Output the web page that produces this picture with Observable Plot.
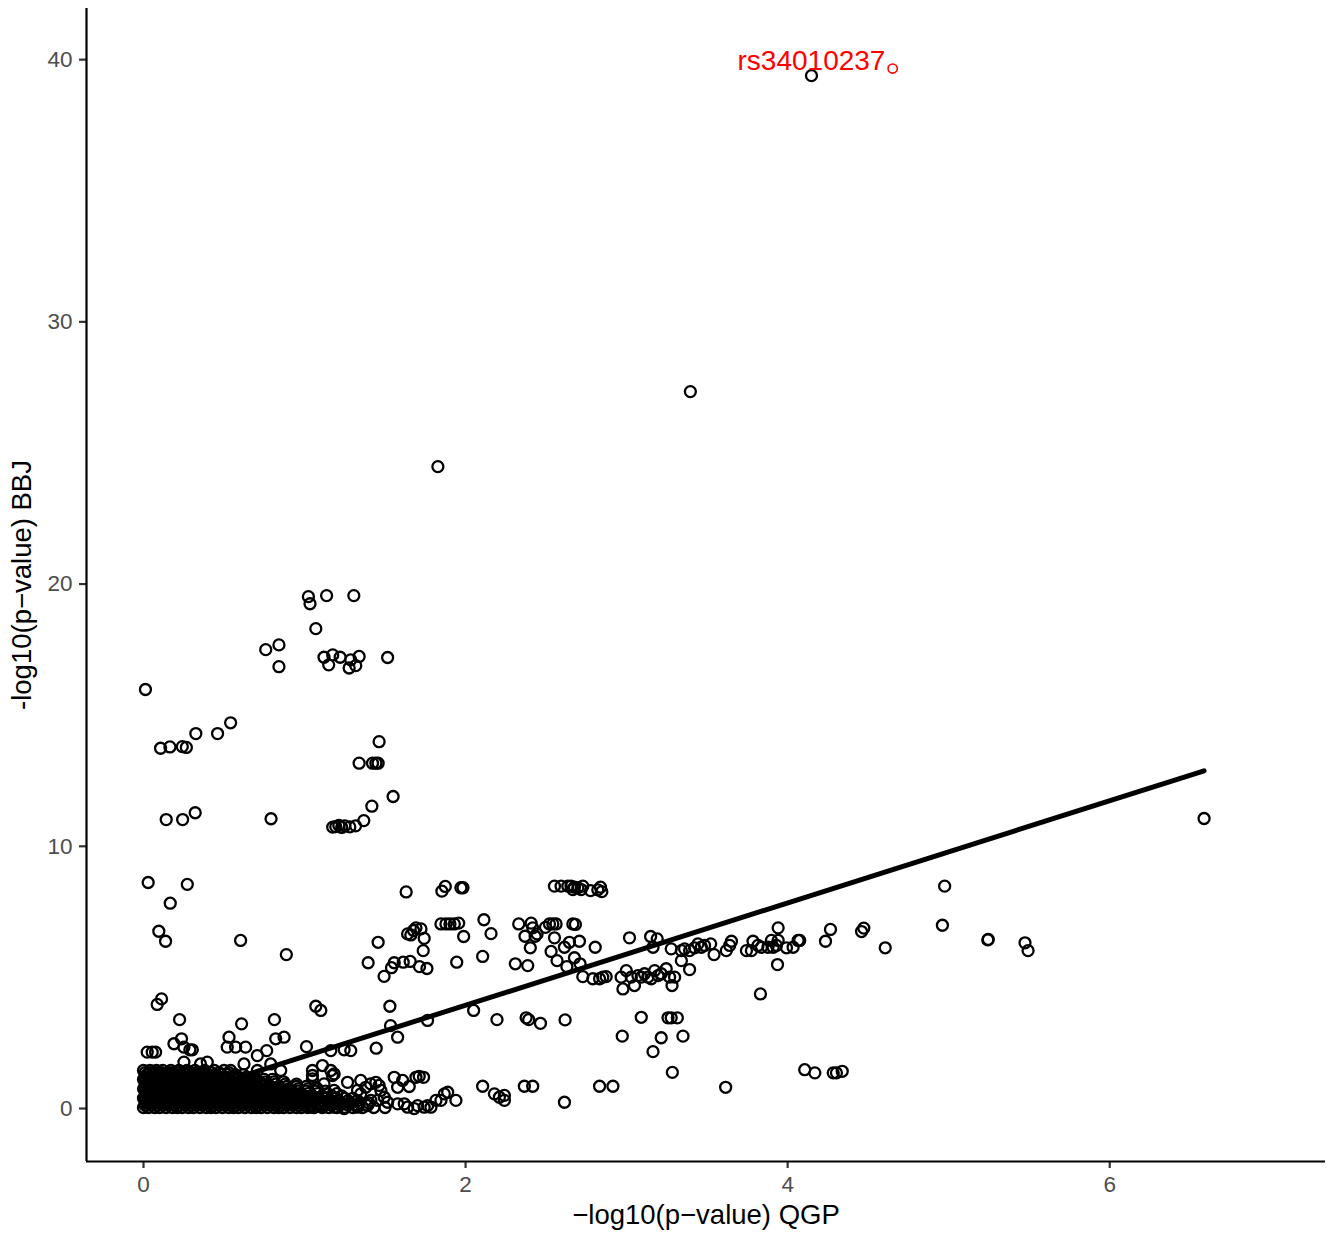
<!DOCTYPE html>
<html><head><meta charset="utf-8">
<script src="https://cdn.jsdelivr.net/npm/d3@7"></script>
<script src="https://cdn.jsdelivr.net/npm/@observablehq/plot@0.6"></script>
<style>body{margin:0;background:#fff} svg{font-family:"Liberation Sans",Arial,sans-serif}</style>
</head><body><div id="chart"></div>
<script>
// Scattered SNPs: -log10(p) QGP (x) and BBJ (y)
const qgp = [4.148,3.396,1.828,6.586,0.012,
1.024,1.034,1.137,1.306,1.070,0.759,0.841,0.841,1.121,1.175,1.221,1.150,1.287,1.277,1.318,1.339,1.516,
0.106,0.164,0.241,0.266,0.325,0.460,0.541,1.463,1.339,1.422,1.443,1.457,1.550,1.418,1.368,1.317,1.281,1.175,1.194,1.213,1.231,1.250,0.141,0.243,0.321,0.792,
0.029,0.272,0.166,0.095,0.137,0.603,0.887,1.631,1.853,1.874,1.847,1.878,1.903,1.930,1.957,1.457,1.395,1.494,1.540,1.557,1.613,1.656,1.714,1.760,1.660,1.677,1.692,1.723,1.743,1.737,1.640,
0.085,0.112,0.224,0.609,0.813,1.070,1.101,1.530,1.534,1.578,1.764,0.531,0.821,0.873,0.236,0.189,1.012,1.445,
1.971,1.984,2.552,2.593,2.635,2.655,2.666,2.676,2.697,2.718,2.728,2.776,2.821,2.838,2.846,
2.114,2.158,1.988,2.330,2.407,2.417,2.369,2.402,2.432,2.444,2.496,2.521,2.542,2.562,2.552,2.531,2.568,2.614,2.645,2.707,2.629,2.676,2.711,2.666,2.682,2.805,
1.945,2.106,2.309,2.386,
2.728,2.790,2.832,2.852,2.873,2.966,2.977,2.998,3.029,3.049,3.070,3.091,3.111,3.132,3.153,3.174,3.195,3.215,3.246,3.267,3.282,3.298,
3.018,3.149,3.190,3.164,
3.277,3.340,3.360,3.391,3.422,3.443,3.464,3.484,3.522,3.543,3.619,3.640,3.651,3.340,3.391,
3.744,3.775,3.785,3.816,3.837,3.878,3.899,3.910,3.930,3.941,3.993,4.034,4.065,4.075,3.941,3.937,3.831,4.235,4.266,
2.050,2.195,2.376,2.392,2.465,2.618,3.091,3.257,3.277,3.315,2.973,3.215,3.350,3.164,3.284,3.615,4.106,4.169,4.283,4.303,4.339,
1.609,1.650,1.692,1.712,1.739,2.106,2.179,2.210,2.241,2.241,2.365,2.417,2.614,2.832,2.915,
4.975,4.961,4.459,4.473,4.606,5.243,5.246,5.474,5.493,
0.251,0.288,0.303,0.023,0.054,0.075,0.520,0.572,0.634,0.707,0.765,1.163,1.246,1.287,
0.251,0.354,0.396,0.541,0.624,0.707,0.790,0.852,1.049,1.111,1.163,1.173,
1.049,1.070,1.121,1.184,1.267,1.349,1.443,1.557,1.474,1.495,1.349,1.412,1.868,1.940,1.847,1.785,1.743,1.681,1.619,1.578,
1.049,1.184,1.578,1.411,1.463,1.380,1.329,
1.889,1.816,1.764,1.702,1.640,1.516,1.453,1.391,1.329,1.246,1.184,1.101,1.039];
const bbj = [39.39,27.34,24.48,11.06,15.98,
19.52,19.25,19.56,19.56,18.30,17.50,17.68,16.85,17.21,17.30,17.21,16.92,17.11,16.80,16.89,17.24,17.20,
13.74,13.79,13.80,13.77,14.30,14.30,14.71,13.99,13.17,13.17,13.17,13.17,11.90,11.53,10.98,10.78,10.74,10.73,10.75,10.80,10.72,10.78,11.02,11.02,11.28,11.05,
8.62,8.55,7.83,6.76,6.38,6.41,5.87,8.26,8.29,8.47,7.04,7.04,7.04,7.04,7.07,6.34,5.56,5.04,5.37,5.56,5.58,5.61,5.41,5.34,6.62,6.79,6.89,6.85,6.49,6.02,6.66,
3.97,4.18,3.39,3.23,3.39,3.90,3.74,3.90,3.16,2.72,3.36,2.72,2.66,2.72,2.66,2.47,2.36,2.30,
8.42,8.42,8.48,8.48,8.48,8.48,8.35,8.44,8.42,8.35,8.48,8.31,8.34,8.44,8.27,
7.20,6.67,6.56,7.04,7.07,6.89,6.57,6.13,6.57,6.66,6.91,7.04,7.04,7.04,6.51,5.99,5.64,6.15,6.34,6.38,5.41,5.75,5.52,7.04,7.02,6.15,
5.58,5.80,5.52,5.45,
5.03,4.95,4.95,5.01,5.03,5.01,4.56,5.26,5.01,4.69,5.07,5.01,5.14,5.01,4.95,5.26,5.07,5.14,5.33,5.01,4.69,5.01,
6.51,6.56,6.47,6.15,
6.09,6.02,6.09,6.02,6.13,6.28,6.15,6.22,6.28,5.87,6.02,6.22,6.38,5.64,5.30,
6.02,6.02,6.38,6.22,6.15,6.15,6.41,6.15,6.22,6.41,6.13,6.15,6.41,6.41,6.89,5.49,4.37,6.38,6.83,
3.74,3.39,3.46,3.39,3.25,3.38,3.48,3.46,3.46,3.46,2.76,2.70,2.76,2.17,1.38,0.81,1.48,1.36,1.36,1.36,1.42,
1.07,0.84,1.19,1.23,1.19,0.85,0.56,0.43,0.31,0.50,0.85,0.85,0.24,0.85,0.85,
8.48,6.99,6.75,6.88,6.13,6.43,6.45,6.32,6.02,
2.34,2.24,2.24,2.15,2.15,2.15,2.34,2.34,2.34,2.02,2.21,2.21,2.24,2.21,
1.77,1.70,1.77,1.45,1.70,1.45,1.70,1.45,1.45,1.64,1.45,1.26,
1.13,0.81,0.94,0.69,1.00,1.07,1.00,1.19,0.69,0.43,0.56,0.31,0.56,0.31,0.31,0.05,0.05,0.00,0.18,0.18,
1.26,1.32,0.81,0.94,0.88,0.81,0.69,
0.62,0.31,0.11,0.11,0.05,0.24,0.31,0.11,0.05,0.00,0.05,0.11,0.05];

// Dense cluster near the origin, read row by row
const blobBBJ = [0.04,0.13,0.21,0.30,0.39,0.48,0.57,0.66,0.75,0.84,0.93,1.02,1.11,1.20,1.29,1.37,1.45];
const blobQGP = [
[0.00,0.03,0.07,0.10,0.14,0.18,0.21,0.24,0.28,0.31,0.35,0.39,0.42,0.45,0.49,0.53,0.56,0.59,0.63,0.67,0.70,0.73,0.77,0.81,0.84,0.87,0.91,0.95,0.98,1.02,1.06,1.11,1.15,1.20,1.25,1.30,1.36,1.43,1.50],
[0.01,0.05,0.08,0.12,0.15,0.19,0.22,0.26,0.29,0.33,0.36,0.40,0.43,0.47,0.50,0.54,0.57,0.61,0.64,0.68,0.71,0.75,0.78,0.82,0.85,0.89,0.92,0.96,1.00,1.04,1.08,1.13,1.17,1.22,1.27,1.33,1.39],
[0.02,0.05,0.09,0.12,0.16,0.19,0.23,0.26,0.30,0.33,0.37,0.40,0.44,0.47,0.51,0.54,0.58,0.61,0.65,0.68,0.72,0.75,0.79,0.82,0.86,0.89,0.93,0.96,1.00,1.04,1.09,1.13,1.18,1.23,1.28,1.34,1.40],
[0.01,0.04,0.08,0.11,0.15,0.18,0.22,0.25,0.29,0.32,0.36,0.39,0.43,0.46,0.50,0.53,0.57,0.60,0.64,0.67,0.71,0.74,0.78,0.81,0.85,0.88,0.92,0.95,0.99,1.03,1.07,1.11,1.16,1.21,1.27,1.33],
[0.00,0.03,0.07,0.10,0.14,0.18,0.21,0.24,0.28,0.31,0.35,0.39,0.42,0.45,0.49,0.53,0.56,0.59,0.63,0.67,0.70,0.73,0.77,0.81,0.84,0.87,0.91,0.95,0.99,1.03,1.08,1.13,1.19,1.25,1.30],
[0.01,0.05,0.08,0.12,0.15,0.19,0.22,0.26,0.29,0.33,0.36,0.40,0.43,0.47,0.50,0.54,0.57,0.61,0.64,0.68,0.71,0.75,0.78,0.82,0.85,0.89,0.92,0.96,1.00,1.05,1.11,1.17,1.23],
[0.02,0.05,0.09,0.12,0.16,0.19,0.23,0.26,0.30,0.33,0.37,0.40,0.44,0.47,0.51,0.54,0.58,0.61,0.65,0.68,0.72,0.75,0.79,0.82,0.86,0.89,0.93,0.97,1.02,1.08,1.14,1.20],
[0.01,0.04,0.08,0.11,0.15,0.18,0.22,0.25,0.29,0.32,0.36,0.39,0.43,0.46,0.50,0.53,0.57,0.60,0.64,0.67,0.71,0.74,0.78,0.81,0.85,0.88,0.92,0.96,1.01,1.07,1.13],
[0.00,0.03,0.07,0.10,0.14,0.18,0.21,0.24,0.28,0.31,0.35,0.39,0.42,0.45,0.49,0.53,0.56,0.59,0.63,0.67,0.70,0.73,0.77,0.81,0.85,0.90,0.96,1.02,1.08],
[0.01,0.05,0.08,0.12,0.15,0.19,0.22,0.26,0.29,0.33,0.36,0.40,0.43,0.47,0.50,0.54,0.57,0.61,0.64,0.68,0.71,0.75,0.79,0.84,0.89,0.95,1.01],
[0.02,0.05,0.09,0.12,0.16,0.19,0.23,0.26,0.30,0.33,0.37,0.40,0.44,0.47,0.51,0.54,0.58,0.61,0.65,0.69,0.73,0.77,0.82,0.88,0.95],
[0.01,0.04,0.08,0.11,0.15,0.18,0.22,0.25,0.29,0.32,0.36,0.39,0.43,0.46,0.50,0.53,0.57,0.60,0.64,0.68,0.72,0.76,0.81,0.87],
[0.00,0.03,0.07,0.10,0.14,0.18,0.21,0.24,0.28,0.31,0.35,0.39,0.42,0.45,0.49,0.53,0.57,0.61,0.65,0.70,0.75,0.80],
[0.01,0.05,0.08,0.12,0.15,0.19,0.22,0.26,0.29,0.33,0.36,0.40,0.43,0.47,0.51,0.55,0.59,0.64,0.69],
[0.02,0.05,0.09,0.12,0.16,0.19,0.23,0.26,0.30,0.33,0.37,0.40,0.44,0.48,0.52,0.57,0.62],
[0.01,0.04,0.08,0.11,0.15,0.18,0.22,0.25,0.29,0.33,0.37,0.42,0.47,0.53],
[0.00,0.04,0.08,0.12,0.17,0.22,0.27,0.32,0.38,0.44,0.50]
];

// Fitted line (lm) endpoints
const fitQGP = [0.0, 6.586];
const fitBBJ = [0.04, 12.88];

// Highlighted SNP
const hiQGP = [4.652];
const hiBBJ = [39.66];
const labelText = ["rs34010237"];
const labelQGP = [4.148];
const labelBBJ = [39.39];

const xTicks = [0, 2, 4, 6];
const yTicks = [0, 10, 20, 30, 40];
const xTitle = "\u2212log10(p\u2212value) QGP";
const yTitle = "-log10(p\u2212value) BBJ";
const xDomain = [-0.354, 7.34];
const yDomain = [-2.02, 41.95];

const points = qgp.map((x, i) => ({qgp: x, bbj: bbj[i]}));
blobQGP.forEach((row, i) => row.forEach(x => points.push({qgp: x, bbj: blobBBJ[i]})));
const fit = fitQGP.map((x, i) => ({qgp: x, bbj: fitBBJ[i]}));
const hi = hiQGP.map((x, i) => ({qgp: x, bbj: hiBBJ[i]}));
const labels = labelText.map((t, i) => ({t, qgp: labelQGP[i], bbj: labelBBJ[i]}));

const chart = Plot.plot({
  width: 1335, height: 1237,
  marginLeft: 86, marginRight: 10, marginTop: 8, marginBottom: 76,
  style: {fontFamily: '"Liberation Sans", Arial, sans-serif', background: "white"},
  x: {domain: xDomain, label: null},
  y: {domain: yDomain, label: null},
  marks: [
    Plot.dot(points, {x: "qgp", y: "bbj", r: 5.5, stroke: "black", strokeWidth: 2.3, fill: "none"}),
    Plot.line(fit, {x: "qgp", y: "bbj", stroke: "black", strokeWidth: 5}),
    Plot.dot(hi, {x: "qgp", y: "bbj", r: 4.6, stroke: "red", strokeWidth: 1.6, fill: "none"}),
    Plot.text(labels, {x: "qgp", y: "bbj", text: "t", fill: "red", fontSize: 28, dy: -15}),
    Plot.axisX({ticks: xTicks, tickSize: 7, tickPadding: 8, fontSize: 22.5, stroke: "#333", strokeWidth: 2.2, fill: "#4d4d4d", label: null, tickFormat: d => String(d)}),
    Plot.axisY({ticks: yTicks, tickSize: 7, tickPadding: 7, fontSize: 22.5, stroke: "#333", strokeWidth: 2.2, fill: "#4d4d4d", label: null, tickFormat: d => String(d)}),
    Plot.ruleX([xDomain[0]], {stroke: "black", strokeWidth: 2.2}),
    Plot.ruleY([yDomain[0]], {stroke: "black", strokeWidth: 2.2}),
    Plot.text([xTitle], {frameAnchor: "bottom", textAnchor: "middle", dy: 62, fontSize: 27.5, fill: "black"}),
    Plot.text([yTitle], {frameAnchor: "left", textAnchor: "middle", dx: -64, rotate: -90, fontSize: 27.5, fill: "black"})
  ]
});
document.getElementById("chart").appendChild(chart);
</script>
</body></html>
